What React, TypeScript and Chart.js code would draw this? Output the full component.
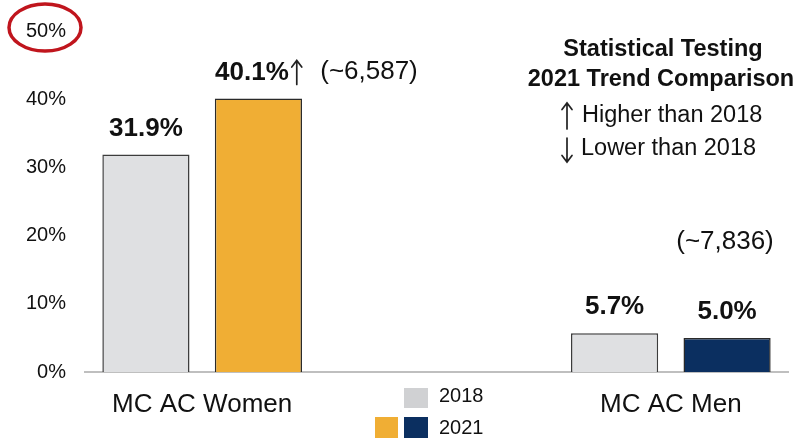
import React, { useEffect, useRef } from "react";
import { Chart, registerables } from "chart.js";

Chart.register(...registerables);

const categories = ["MC AC Women", "", "MC AC Men"];
const values2018 = [31.9, null, 5.7];
const values2021 = [40.1, null, 5.0];
const labels2018 = ["31.9%", "", "5.7%"];
const labels2021 = ["40.1%", "", "5.0%"];
const arrows2021 = ["up", "", ""];
const counts = ["(~6,587)", "", "(~7,836)"];
const yTicks = [0, 10, 20, 30, 40, 50];

const GREY = "#dfe0e2";
const ORANGE = "#f0ae34";
const NAVY = "#0b2f60";
const FONT = "'Liberation Sans', Arial, sans-serif";

function drawArrow(ctx: CanvasRenderingContext2D, x: number, top: number, bottom: number, dir: "up" | "down") {
  ctx.save();
  ctx.strokeStyle = "#222";
  ctx.lineWidth = 1.7;
  ctx.lineCap = "round";
  ctx.beginPath();
  ctx.moveTo(x, top);
  ctx.lineTo(x, bottom);
  if (dir === "up") {
    ctx.moveTo(x - 5, top + 6.5);
    ctx.lineTo(x, top);
    ctx.lineTo(x + 5, top + 6.5);
  } else {
    ctx.moveTo(x - 5, bottom - 6.5);
    ctx.lineTo(x, bottom);
    ctx.lineTo(x + 5, bottom - 6.5);
  }
  ctx.stroke();
  ctx.restore();
}

export default function App() {
  const ref = useRef<HTMLCanvasElement>(null);

  useEffect(() => {
    document.body.style.margin = "0";
    const canvas = ref.current!;
    const overlay = {
      id: "overlay",
      afterDatasetsDraw(chart: any) {
        const ctx = chart.ctx;
        ctx.save();
        ctx.fillStyle = "#111";
        ctx.textBaseline = "middle";
        const m0 = chart.getDatasetMeta(0);
        const m1 = chart.getDatasetMeta(1);
        // data labels
        m0.data.forEach((bar: any, i: number) => {
          if (values2018[i] == null) return;
          ctx.font = `bold 26px ${FONT}`;
          ctx.textAlign = "center";
          ctx.fillText(labels2018[i], bar.x, bar.y - 26);
        });
        m1.data.forEach((bar: any, i: number) => {
          if (values2021[i] == null) return;
          ctx.font = `bold 26px ${FONT}`;
          const w1 = ctx.measureText(labels2021[i]).width;
          const w2 = arrows2021[i] ? 13 : 0;
          const start = bar.x - (w1 + w2) / 2;
          ctx.textAlign = "left";
          ctx.fillText(labels2021[i], start, bar.y - 26);
          if (arrows2021[i]) {
            const cy = bar.y - 26;
            drawArrow(ctx, start + w1 + 8, cy - 12, cy + 12, arrows2021[i] as any);
          }
        });
        // counts
        ctx.font = `26px ${FONT}`;
        ctx.textAlign = "center";
        ctx.fillText(counts[0], 369, 72);
        ctx.fillText(counts[2], 725, 242);
        // stat testing box
        ctx.font = `bold 23.5px ${FONT}`;
        ctx.fillText("Statistical Testing", 663, 50);
        ctx.fillText("2021 Trend Comparison", 661, 80);
        ctx.font = `23.5px ${FONT}`;
        ctx.textAlign = "left";
        ctx.fillText("Higher than 2018", 582, 116);
        ctx.fillText("Lower than 2018", 581, 149);
        drawArrow(ctx, 567, 103, 129, "up");
        drawArrow(ctx, 567, 138, 162, "down");
        // legend
        ctx.fillStyle = "#d0d1d3";
        ctx.fillRect(404, 388, 24, 20);
        ctx.fillStyle = ORANGE;
        ctx.fillRect(375, 417, 23, 21);
        ctx.fillStyle = NAVY;
        ctx.fillRect(404, 417, 24, 21);
        ctx.fillStyle = "#111";
        ctx.font = `20px ${FONT}`;
        ctx.textAlign = "left";
        ctx.fillText("2018", 439, 396);
        ctx.fillText("2021", 439, 428);
        // red ellipse
        ctx.strokeStyle = "#c0151d";
        ctx.lineWidth = 3.5;
        ctx.beginPath();
        ctx.ellipse(45, 27.5, 36, 23.5, 0, 0, Math.PI * 2);
        ctx.stroke();
        ctx.restore();
      },
    };

    const chart = new Chart(canvas, {
      type: "bar",
      data: {
        labels: categories,
        datasets: [
          {
            label: "2018",
            data: values2018,
            backgroundColor: GREY,
            borderColor: "#3c3c3c",
            borderWidth: 1.5,
          },
          {
            label: "2021",
            data: values2021,
            backgroundColor: [ORANGE, ORANGE, NAVY],
            borderColor: "#2a2a2a",
            borderWidth: 1.5,
          },
        ],
      },
      options: {
        animation: false,
        responsive: false,
        devicePixelRatio: 1,
        layout: { padding: { top: 29.5, right: 14, left: 0, bottom: 0 } },
        datasets: { bar: { categoryPercentage: 0.96, barPercentage: 0.775 } },
        plugins: { legend: { display: false }, tooltip: { enabled: false } },
        scales: {
          x: {
            grid: { display: false, drawTicks: false },
            border: { display: true, color: "#bfbfbf", width: 2 },
            ticks: {
              color: "#111",
              font: { family: FONT, size: 26 },
              padding: 17,
              maxRotation: 0,
              autoSkip: false,
            },
            afterFit: (s: any) => {
              s.height = 68;
            },
          },
          y: {
            min: 0,
            max: 50,
            grid: { display: false, drawTicks: false },
            border: { display: false },
            afterBuildTicks: (s: any) => {
              s.ticks = yTicks.map((v) => ({ value: v }));
            },
            ticks: {
              color: "#111",
              font: { family: FONT, size: 20 },
              padding: 19,
              callback: (v: any) => `${v}%`,
            },
            afterFit: (s: any) => {
              s.width = 85;
            },
          },
        },
      },
      plugins: [overlay],
    });
    return () => chart.destroy();
  }, []);

  return (
    <div style={{ width: 802, height: 440, background: "#fff" }}>
      <canvas ref={ref} width={802} height={440} />
    </div>
  );
}
